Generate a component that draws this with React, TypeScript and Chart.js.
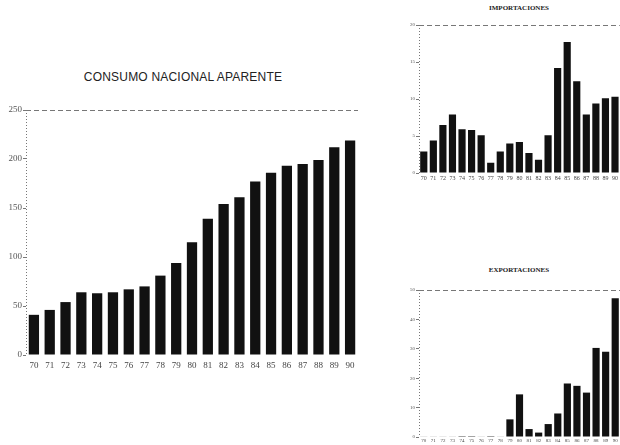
import React, { useEffect, useRef } from "react";
import { Chart, registerables } from "chart.js";

Chart.register(...registerables);

const years = ["70","71","72","73","74","75","76","77","78","79","80","81","82","83","84","85","86","87","88","89","90"];

const consumo = [41, 46, 54, 64, 63, 64, 67, 70, 81, 94, 115, 139, 154, 161, 177, 186, 193, 195, 199, 212, 219];
const importaciones = [2.9, 4.4, 6.5, 7.9, 5.9, 5.8, 5.1, 1.4, 2.9, 4.0, 4.2, 2.7, 1.8, 5.1, 14.2, 17.7, 12.4, 7.9, 9.4, 10.1, 10.3];
const exportaciones = [0.2, 0.2, 0.2, 0.2, 0.3, 0.3, 0.2, 0.3, 0.2, 6.0, 14.5, 2.7, 1.5, 4.4, 8.0, 18.2, 17.4, 15.1, 30.3, 29.0, 47.2];

const consumoTicks = [0, 50, 100, 150, 200, 250];
const importTicks = [0, 5, 10, 15, 20];
const exportTicks = [0, 10, 20, 30, 40, 50];

const framePlugin = {
  id: "frame",
  beforeDatasetsDraw(chart: any) {
    const { ctx, chartArea } = chart;
    ctx.save();
    ctx.strokeStyle = "#777";
    ctx.lineWidth = 1;
    ctx.setLineDash([5, 3]);
    ctx.beginPath();
    ctx.moveTo(chartArea.left, chartArea.top + 0.5);
    ctx.lineTo(chartArea.right, chartArea.top + 0.5);
    ctx.stroke();
    ctx.setLineDash([1, 2]);
    ctx.beginPath();
    ctx.moveTo(chartArea.left + 0.5, chartArea.top);
    ctx.lineTo(chartArea.left + 0.5, chartArea.bottom);
    ctx.stroke();
    ctx.restore();
  },
};

type Cfg = {
  data: number[];
  ticks: number[];
  yWidth: number;
  xHeight: number;
  padTop: number;
  padRight: number;
  tickFont: number;
  xFont: number;
  xPad: number;
  barPct: number;
};

function makeConfig(c: Cfg): any {
  const max = c.ticks[c.ticks.length - 1];
  const step = c.ticks[1] - c.ticks[0];
  return {
    type: "bar",
    data: {
      labels: years,
      datasets: [
        {
          data: c.data,
          backgroundColor: "#111",
          borderWidth: 0,
          barPercentage: c.barPct,
          categoryPercentage: 1,
        },
      ],
    },
    plugins: [framePlugin],
    options: {
      animation: false,
      responsive: false,
      maintainAspectRatio: false,
      layout: { padding: { top: c.padTop, right: c.padRight, left: 0, bottom: 0 } },
      plugins: { legend: { display: false }, tooltip: { enabled: false }, title: { display: false } },
      scales: {
        x: {
          grid: { display: false, drawTicks: false },
          border: { display: false },
          afterFit: (s: any) => { s.height = c.xHeight; },
          ticks: {
            autoSkip: false,
            maxRotation: 0,
            minRotation: 0,
            padding: c.xPad,
            color: "#444",
            font: { family: "Liberation Serif", size: c.xFont },
          },
        },
        y: {
          min: 0,
          max: max,
          afterFit: (s: any) => { s.width = c.yWidth; },
          grid: {
            drawOnChartArea: false,
            drawTicks: true,
            tickLength: 3,
            tickColor: "#777",
            color: "rgba(0,0,0,0)",
          },
          border: { display: false },
          ticks: {
            stepSize: step,
            padding: 1,
            color: "#555",
            font: { family: "Liberation Serif", size: c.tickFont },
          },
        },
      },
    },
  };
}

function BarChart({ cfg, style, width, height }: { cfg: Cfg; style: any; width: number; height: number }) {
  const ref = useRef<HTMLCanvasElement>(null);
  useEffect(() => {
    const chart = new Chart(ref.current as HTMLCanvasElement, makeConfig(cfg));
    return () => chart.destroy();
  }, []);
  return (
    <canvas ref={ref} width={width} height={height} style={{ position: "absolute", width, height, ...style }} />
  );
}

export default function App() {
  return (
    <div style={{ position: "fixed", left: 0, top: 0, width: 620, height: 445, background: "#fff", overflow: "hidden" }}>
      <div
        style={{
          position: "absolute",
          left: 0,
          width: 366,
          top: 70,
          textAlign: "center",
          fontFamily: "Liberation Sans",
          fontSize: 12,
          letterSpacing: 0.2,
          color: "#222",
        }}
      >
        CONSUMO NACIONAL APARENTE
      </div>
      <BarChart
        width={366}
        height={280}
        style={{ left: 0, top: 100 }}
        cfg={{ data: consumo, ticks: consumoTicks, yWidth: 26, xHeight: 25, padTop: 10, padRight: 8, tickFont: 9, xFont: 9, xPad: 5, barPct: 0.65 }}
      />
      <div
        style={{
          position: "absolute",
          left: 418,
          width: 202,
          top: 4,
          textAlign: "center",
          fontFamily: "Liberation Serif",
          fontWeight: "bold",
          fontSize: 7,
          color: "#222",
        }}
      >
        IMPORTACIONES
      </div>
      <BarChart
        width={220}
        height={185}
        style={{ left: 400, top: 0 }}
        cfg={{ data: importaciones, ticks: importTicks, yWidth: 19, xHeight: 12, padTop: 25, padRight: 0, tickFont: 5, xFont: 6, xPad: 2, barPct: 0.75 }}
      />
      <div
        style={{
          position: "absolute",
          left: 418,
          width: 202,
          top: 266,
          textAlign: "center",
          fontFamily: "Liberation Serif",
          fontWeight: "bold",
          fontSize: 7,
          color: "#222",
        }}
      >
        EXPORTACIONES
      </div>
      <BarChart
        width={220}
        height={175}
        style={{ left: 400, top: 270 }}
        cfg={{ data: exportaciones, ticks: exportTicks, yWidth: 19, xHeight: 8, padTop: 20, padRight: 0, tickFont: 5, xFont: 5, xPad: 1, barPct: 0.75 }}
      />
    </div>
  );
}
